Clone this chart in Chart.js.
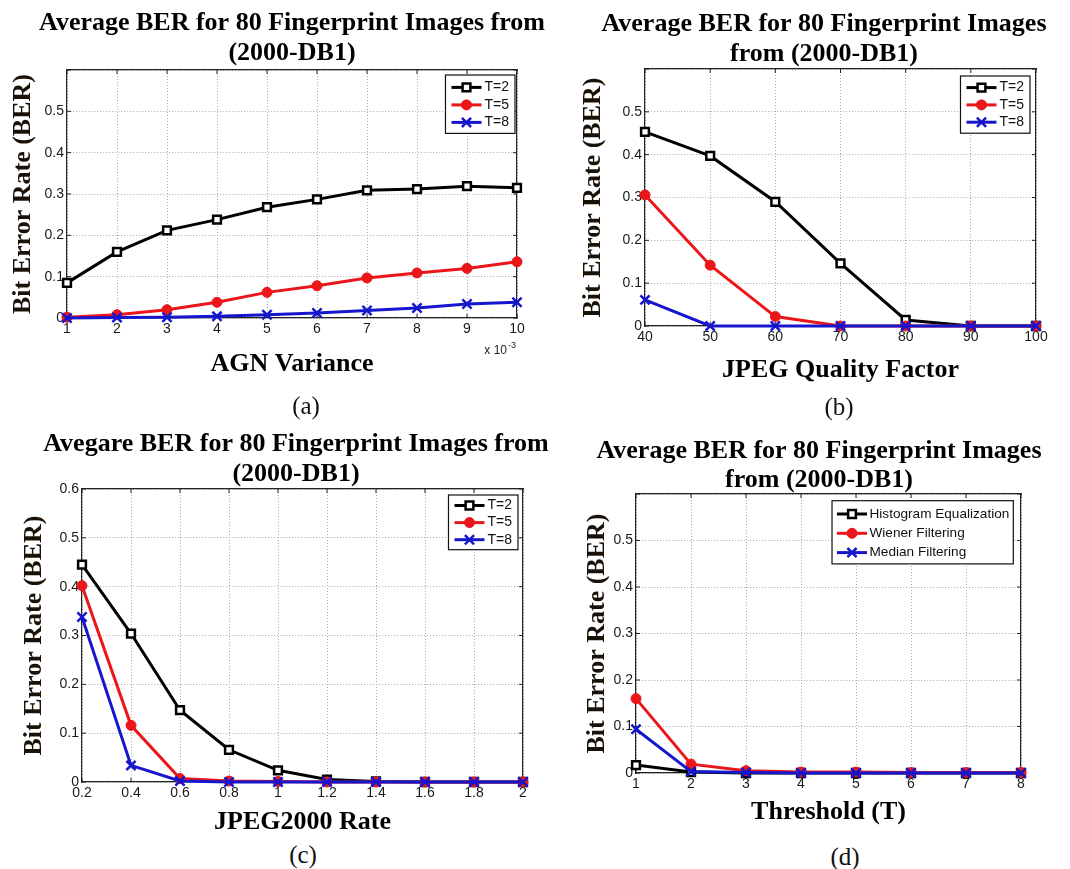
<!DOCTYPE html>
<html lang="en">
<head>
    <meta charset="UTF-8">
    <title>Average BER for 80 Fingerprint Images from (2000-DB1)</title>
    <script src="https://cdn.jsdelivr.net/npm/chart.js@4.4.1/dist/chart.umd.min.js"></script>
    <style>
        html, body {
            margin: 0;
            padding: 0;
            background: #fff;
            overflow: hidden;
        }

        .page {
            position: relative;
            width: 1070px;
            height: 869px;
        }

        canvas {
            position: absolute;
        }

        .cap {
            position: absolute;
            width: 100px;
            text-align: center;
            font-family: "Liberation Serif", "Times New Roman", serif;
            font-size: 25px;
            line-height: 30px;
            color: #111;
        }
    </style>
</head>
<body>
    <div class="page">
        <canvas id="chartA" width="584" height="380" style="left:0px;top:0px"></canvas>
        <canvas id="chartB" width="492" height="385" style="left:578px;top:0px"></canvas>
        <canvas id="chartC" width="592" height="417" style="left:0px;top:420px"></canvas>
        <canvas id="chartD" width="474" height="407" style="left:582px;top:420px"></canvas>

        <div class="cap" style="left:256px;top:391px">(a)</div>
        <div class="cap" style="left:789px;top:392px">(b)</div>
        <div class="cap" style="left:253px;top:840px">(c)</div>
        <div class="cap" style="left:795px;top:842px">(d)</div>
    </div>

    <script>
        // (a) AGN variance (x 10^-3)
        const agnLabels = ['1', '2', '3', '4', '5', '6', '7', '8', '9', '10'];
        const agnT2 = [0.085, 0.160, 0.212, 0.238, 0.268, 0.287, 0.309, 0.312, 0.319, 0.315];
        const agnT5 = [0.002, 0.008, 0.020, 0.038, 0.062, 0.078, 0.097, 0.109, 0.120, 0.136];
        const agnT8 = [0.000, 0.001, 0.002, 0.004, 0.008, 0.012, 0.018, 0.024, 0.034, 0.038];

        // (b) JPEG quality factor
        const jpegLabels = ['40', '50', '60', '70', '80', '90', '100'];
        const jpegT2 = [0.453, 0.397, 0.290, 0.146, 0.014, 0.000, 0.000];
        const jpegT5 = [0.306, 0.142, 0.022, 0.000, 0.000, 0.000, 0.000];
        const jpegT8 = [0.061, 0.000, 0.000, 0.000, 0.000, 0.000, 0.000];

        // (c) JPEG2000 rate
        const j2kLabels = ['0.2', '0.4', '0.6', '0.8', '1', '1.2', '1.4', '1.6', '1.8', '2'];
        const j2kT2 = [0.445, 0.304, 0.147, 0.066, 0.024, 0.005, 0.001, 0.000, 0.000, 0.000];
        const j2kT5 = [0.402, 0.116, 0.007, 0.002, 0.001, 0.000, 0.000, 0.000, 0.000, 0.000];
        const j2kT8 = [0.338, 0.034, 0.002, 0.000, 0.000, 0.000, 0.000, 0.000, 0.000, 0.000];

        // (d) threshold T, filtering attacks
        const thrLabels = ['1', '2', '3', '4', '5', '6', '7', '8'];
        const thrHist = [0.017, 0.002, 0.000, 0.000, 0.000, 0.000, 0.000, 0.000];
        const thrWiener = [0.160, 0.019, 0.005, 0.002, 0.002, 0.001, 0.001, 0.001];
        const thrMedian = [0.094, 0.003, 0.001, 0.000, 0.000, 0.000, 0.000, 0.000];

        // y tick labels (top 0.6 label hidden except in (c))
        const berTicks = ['0', '0.1', '0.2', '0.3', '0.4', '0.5', ''];
        const berTicksFull = ['0', '0.1', '0.2', '0.3', '0.4', '0.5', '0.6'];

        const serif = '"Liberation Serif", "Times New Roman", serif';
        const black = '#000000';
        const red = 'rgb(235, 22, 26)';
        const blue = 'rgb(22, 22, 205)';
        const axisColor = '#222';
        const gridColor = '#a9a9a9';

        Chart.defaults.font.family = '"Liberation Sans", Arial, sans-serif';

        // MATLAB style ticks pointing inside the box
        const inTicks = {
            id: 'inTicks',
            beforeDatasetsDraw(chart) {
                const ctx = chart.ctx;
                const a = chart.chartArea;
                const sx = chart.scales.x, sy = chart.scales.y;
                ctx.save();
                ctx.strokeStyle = axisColor;
                ctx.lineWidth = 1;
                ctx.beginPath();
                sx.ticks.forEach((t, i) => {
                    const px = sx.getPixelForTick(i);
                    ctx.moveTo(px, a.bottom); ctx.lineTo(px, a.bottom - 4);
                    ctx.moveTo(px, a.top); ctx.lineTo(px, a.top + 4);
                });
                sy.ticks.forEach((t, i) => {
                    const py = sy.getPixelForTick(i);
                    ctx.moveTo(a.left, py); ctx.lineTo(a.left + 4, py);
                    ctx.moveTo(a.right, py); ctx.lineTo(a.right - 4, py);
                });
                ctx.stroke();
                ctx.restore();
            }
        };

        // boxed legend in the top right corner, line + marker like MATLAB
        const boxLegend = {
            id: 'boxLegend',
            afterDraw(chart, args, o) {
                const ctx = chart.ctx;
                const a = chart.chartArea;
                const sets = chart.data.datasets;
                ctx.save();
                ctx.font = o.fontSize + 'px "Liberation Sans", Arial, sans-serif';
                let textW = 0;
                sets.forEach(ds => { textW = Math.max(textW, ctx.measureText(ds.label).width); });
                const w = o.padL + o.lineLen + o.gap + textW + o.padR;
                const h = o.firstRow + o.rowH * (sets.length - 1) + o.lastPad;
                const x0 = a.right - o.offRight - w;
                const y0 = a.top + o.offTop;
                ctx.fillStyle = '#fff';
                ctx.fillRect(x0, y0, w, h);
                ctx.strokeStyle = '#111';
                ctx.lineWidth = 1.2;
                ctx.strokeRect(x0, y0, w, h);
                sets.forEach((ds, i) => {
                    const y = y0 + o.firstRow + i * o.rowH;
                    const lx = x0 + o.padL;
                    ctx.strokeStyle = ds.borderColor;
                    ctx.lineWidth = ds.borderWidth;
                    ctx.beginPath();
                    ctx.moveTo(lx, y);
                    ctx.lineTo(lx + o.lineLen, y);
                    ctx.stroke();
                    ctx.fillStyle = ds.pointBackgroundColor;
                    ctx.strokeStyle = ds.pointBorderColor;
                    ctx.lineWidth = ds.pointBorderWidth;
                    Chart.helpers.drawPoint(ctx, {
                        pointStyle: ds.pointStyle,
                        radius: ds.pointRadius,
                        borderWidth: ds.pointBorderWidth,
                        rotation: 0
                    }, lx + o.lineLen / 2, y);
                    ctx.fillStyle = '#111';
                    ctx.textAlign = 'left';
                    ctx.textBaseline = 'middle';
                    ctx.fillText(ds.label, lx + o.lineLen + o.gap, y);
                });
                ctx.restore();
            }
        };

        // "x 10^-3" multiplier under the AGN axis
        const expLabel = {
            id: 'expLabel',
            afterDraw(chart) {
                const ctx = chart.ctx;
                const a = chart.chartArea;
                ctx.save();
                ctx.fillStyle = '#222';
                ctx.textAlign = 'right';
                ctx.textBaseline = 'middle';
                ctx.font = '9px "Liberation Sans", Arial, sans-serif';
                const supW = ctx.measureText('-3').width;
                ctx.fillText('-3', a.right - 1, a.bottom + 28);
                ctx.font = '12px "Liberation Sans", Arial, sans-serif';
                ctx.fillText('x 10', a.right - 2 - supW, a.bottom + 33);
                ctx.restore();
            }
        };

        function series(label, data, color, style, order) {
            return {
                label: label,
                data: data,
                borderColor: color,
                backgroundColor: color,
                borderWidth: 3,
                pointStyle: style,
                pointRadius: style === 'rect' ? 5.5 : (style === 'circle' ? 5 : 6.5),
                pointBorderWidth: style === 'circle' ? 1 : 2.5,
                pointBackgroundColor: style === 'rect' ? '#fff' : color,
                pointBorderColor: color,
                tension: 0,
                clip: false,
                order: order
            };
        }

        function makePanel(id, labels, sets, p) {
            const boldSerif = { family: serif, size: 26, weight: 'bold', lineHeight: '30px' };
            return new Chart(document.getElementById(id), {
                type: 'line',
                data: { labels: labels, datasets: sets },
                options: {
                    responsive: false,
                    animation: false,
                    events: [],
                    layout: { padding: 0 },
                    scales: {
                        x: {
                            type: 'category',
                            grid: { color: gridColor, lineWidth: 1, drawTicks: false },
                            border: { color: axisColor, width: 1.2, dash: [1, 2] },
                            ticks: { color: '#1a1a1a', font: { size: 14 }, padding: 3, maxRotation: 0, autoSkip: false },
                            title: { display: true, text: p.xTitle, color: '#000', font: boldSerif, padding: { top: 0, bottom: p.xTitlePad } },
                            afterFit: s => { s.height = p.hx; }
                        },
                        y: {
                            type: 'linear',
                            min: 0,
                            max: 0.6,
                            grid: { color: gridColor, lineWidth: 1, drawTicks: false },
                            border: { color: axisColor, width: 1.2, dash: [1, 2] },
                            ticks: { stepSize: 0.1, color: '#1a1a1a', font: { size: 14 }, padding: 3, callback: (v, i) => p.yTicks[i] },
                            title: { display: true, text: 'Bit Error Rate (BER)', color: '#1a1208', font: boldSerif, padding: { top: p.yTitlePad, bottom: 0 } },
                            afterFit: s => { s.width = p.wy; }
                        },
                        x2: {
                            type: 'linear',
                            position: 'top',
                            grid: { display: false },
                            ticks: { display: false },
                            border: { color: axisColor, width: 1.2 },
                            afterFit: s => { s.height = 0; }
                        },
                        y2: {
                            type: 'linear',
                            position: 'right',
                            grid: { display: false },
                            ticks: { display: false },
                            border: { color: axisColor, width: 1.2 },
                            afterFit: s => { s.width = p.w2; }
                        }
                    },
                    plugins: {
                        legend: { display: false },
                        tooltip: { enabled: false },
                        title: {
                            display: true,
                            text: p.title,
                            color: '#000',
                            font: { family: serif, size: 26, weight: 'bold', lineHeight: p.titleLH },
                            padding: { top: p.tTop, bottom: p.tBottom }
                        },
                        boxLegend: p.legend
                    }
                },
                plugins: [inTicks, boxLegend].concat(p.extra || [])
            });
        }

        const smallLegend = { padL: 6, lineLen: 30, gap: 3, padR: 6, fontSize: 14 };

        makePanel('chartA', agnLabels, [
            series('T=2', agnT2, black, 'rect', 2),
            series('T=5', agnT5, red, 'circle', 1),
            series('T=8', agnT8, blue, 'crossRot', 0)
        ], {
            title: ['Average BER for 80 Fingerprint Images from', '(2000-DB1)'],
            titleLH: '30.5px', tTop: 8, tBottom: 1,
            xTitle: 'AGN Variance', xTitlePad: 0.5, hx: 62,
            yTicks: berTicks, yTitlePad: 8, wy: 67, w2: 67,
            legend: Object.assign({ offRight: 2, offTop: 5, firstRow: 12.4, rowH: 17.5, lastPad: 11 }, smallLegend),
            extra: [expLabel]
        });

        makePanel('chartB', jpegLabels, [
            series('T=2', jpegT2, black, 'rect', 2),
            series('T=5', jpegT5, red, 'circle', 1),
            series('T=8', jpegT8, blue, 'crossRot', 0)
        ], {
            title: ['Average BER for 80 Fingerprint Images', 'from (2000-DB1)'],
            titleLH: '30px', tTop: 9, tBottom: 0,
            xTitle: 'JPEG Quality Factor', xTitlePad: 0, hx: 59,
            yTicks: berTicks, yTitlePad: 0, wy: 67, w2: 34,
            legend: Object.assign({ offRight: 6, offTop: 7, firstRow: 11.6, rowH: 17.3, lastPad: 11 }, smallLegend)
        });

        makePanel('chartC', j2kLabels, [
            series('T=2', j2kT2, black, 'rect', 2),
            series('T=5', j2kT5, red, 'circle', 1),
            series('T=8', j2kT8, blue, 'crossRot', 0)
        ], {
            title: ['Avegare BER for 80 Fingerprint Images from', '(2000-DB1)'],
            titleLH: '30px', tTop: 8.85, tBottom: 0.15,
            xTitle: 'JPEG2000 Rate', xTitlePad: 0, hx: 55,
            yTicks: berTicksFull, yTitlePad: 19, wy: 82, w2: 69,
            legend: Object.assign({ offRight: 5, offTop: 6, firstRow: 10.5, rowH: 17.1, lastPad: 10 }, smallLegend)
        });

        makePanel('chartD', thrLabels, [
            series('Histogram Equalization', thrHist, black, 'rect', 2),
            series('Wiener Filtering', thrWiener, red, 'circle', 1),
            series('Median Filtering', thrMedian, blue, 'crossRot', 0)
        ], {
            title: ['Average BER for 80 Fingerprint Images', 'from (2000-DB1)'],
            titleLH: '28.2px', tTop: 17.6, tBottom: 0,
            xTitle: 'Threshold (T)', xTitlePad: 0, hx: 54,
            yTicks: berTicks, yTitlePad: 0, wy: 54, w2: 35,
            legend: { offRight: 7.7, offTop: 6.7, firstRow: 13.3, rowH: 19.3, lastPad: 11.3, padL: 5, lineLen: 30, gap: 2.5, padR: 4, fontSize: 13.6 }
        });
    </script>
</body>
</html>
